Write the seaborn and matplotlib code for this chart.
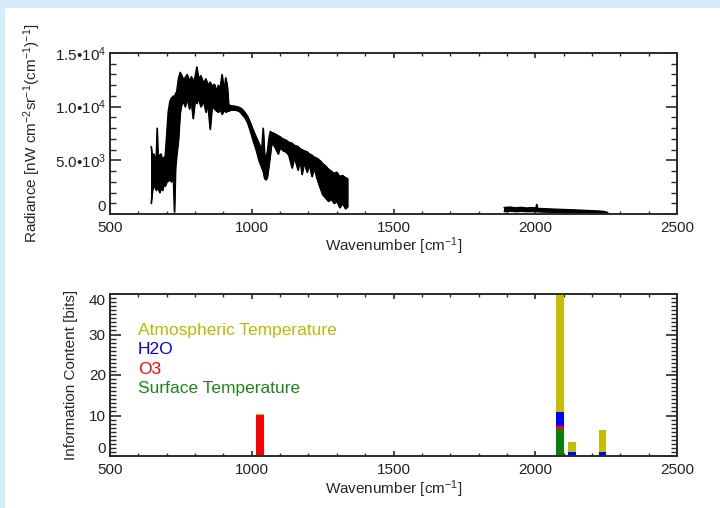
import numpy as np
import pandas as pd
import matplotlib
matplotlib.use("Agg")
import matplotlib.pyplot as plt
from matplotlib.patches import Rectangle
from matplotlib.ticker import FixedLocator, FixedFormatter, MultipleLocator
import seaborn as sns

# ---------------- data ----------------
# Longwave band (cm^-1) with upper / lower envelope of the radiance trace
lw_wn = [645, 650, 655, 660, 663, 666, 669, 675, 680, 685, 690, 694, 700, 705, 711,
         716, 720, 723, 727, 731, 735, 741, 747, 753, 758, 765, 772, 780, 787, 793,
         800, 806, 812, 820, 830, 838, 845, 853, 860, 868, 875, 882, 888, 895, 902,
         908, 914, 918, 925, 940, 955, 965, 975, 985, 995, 1005, 1015, 1025, 1035,
         1040, 1045, 1050, 1055, 1060, 1065, 1070, 1080, 1093, 1100, 1110, 1120,
         1130, 1142, 1150, 1163, 1170, 1177, 1185, 1195, 1203, 1212, 1220, 1230,
         1240, 1250, 1260, 1270, 1280, 1290, 1300, 1310, 1320, 1330, 1338]
lw_hi = [6300, 5200, 5600, 5000, 5300, 8000, 5200, 5500, 5600, 4800, 5300, 5200, 7500, 9500, 10500,
         10800, 10900, 11000, 10900, 11200, 11400, 12600, 13200, 12900, 12600, 12700, 13000, 12400, 12800, 12300,
         12800, 13700, 12600, 12900, 12200, 12600, 12000, 12300, 11900, 12100, 11500, 12000, 11700, 13000, 11500,
         12700, 11800, 10200, 10100, 10050, 9950, 9800, 9500, 9100, 8500, 7800, 7200, 6600, 6000,
         8000, 5500, 5400, 5800, 7000, 7700, 7600, 7500, 7300, 7200, 7000, 6900,
         6700, 6600, 6400, 6300, 6100, 6000, 5900, 5800, 5600, 5500, 5300, 5200,
         5000, 4700, 4500, 4200, 4000, 3800, 3900, 3500, 3600, 3400, 3300]
lw_lo = [1000, 2300, 2600, 2400, 2200, 2500, 2500, 2000, 2400, 2200, 2800, 2600, 3000, 3100, 3200,
         3000, 3300, 3500, 200, 4400, 5500, 6900, 9400, 10300, 10500, 10000, 10800, 9800, 10400, 8900,
         10600, 10300, 10800, 10000, 10500, 9500, 10200, 7900, 10000, 9800, 9600, 9500, 9800, 9300, 9700,
         9500, 9600, 9600, 9700, 9700, 9600, 9300, 9000, 8500, 7700, 6800, 6000, 5000, 4300,
         4000, 3300, 3200, 3500, 4500, 5500, 6600, 6300, 5600, 6200, 5900, 5800,
         5500, 4300, 5300, 4100, 5100, 3700, 4800, 3900, 4600, 3500, 4300, 3300,
         2500, 1800, 1500, 1200, 1400, 1000, 1200, 600, 1000, 500, 700]

# Shortwave band
sw_wn = [1890, 1910, 1930, 1950, 1970, 1990, 2002, 2005, 2008, 2030, 2060, 2090,
         2120, 2150, 2180, 2210, 2240, 2255]
sw_hi = [600, 650, 580, 620, 560, 600, 560, 900, 520, 500, 460, 430,
         400, 370, 330, 300, 250, 150]
sw_lo = [250, 300, 250, 280, 250, 260, 250, 250, 240, 220, 200, 190,
         170, 150, 120, 100, 60, 30]

# Information content bars
bar_wn = [1030, 2087, 2130, 2237]
ic_surface = [0.0, 6.6, 0.0, 0.0]
ic_o3 = [10.1, 0.8, 0.0, 0.0]
ic_h2o = [0.0, 3.4, 1.1, 0.9]
ic_atm = [0.2, 29.4, 2.3, 5.6]

legend_names = ["Atmospheric Temperature", "H2O", "O3", "Surface Temperature"]

x_ticks = [500, 1000, 1500, 2000, 2500]
rad_ticks = [0, 5000, 10000, 15000]
rad_tick_labels = ["0", "5.0\u2022$10^{3}$", "1.0\u2022$10^{4}$", "1.5\u2022$10^{4}$"]
ic_ticks = [0, 10, 20, 30, 40]

# ---------------- style ----------------
sns.set_style("ticks")
plt.rcParams["font.family"] = ["Liberation Sans", "DejaVu Sans"]
plt.rcParams["mathtext.fontset"] = "custom"
plt.rcParams["mathtext.rm"] = "Liberation Sans"
plt.rcParams["mathtext.it"] = "Liberation Sans"
plt.rcParams["mathtext.bf"] = "Liberation Sans"
plt.rcParams["axes.unicode_minus"] = False

c_atm = "#c4bf00"
c_h2o = "#0000ff"
c_o3 = "#ff0000"
c_sfc = "#0a7f0a"
c_atm_txt = "#bdb800"
c_sfc_txt = "#1a861a"
spine_col = "#2a2a2a"

fig = plt.figure(figsize=(7.2, 5.08), dpi=100)
fig.patch.set_facecolor("#d6ecfb")
fig.add_artist(Rectangle((5 / 720, 0), 1, 500 / 508, transform=fig.transFigure,
                         facecolor="white", edgecolor="none", zorder=0))

ax1 = fig.add_axes([110 / 720, 1 - 214 / 508, 567 / 720, 161 / 508])
ax2 = fig.add_axes([110 / 720, 1 - 456 / 508, 567 / 720, 162 / 508])

# ---------------- top: radiance spectrum ----------------
rows = []
for name, xs, ys in [("lw_hi", lw_wn, lw_hi), ("lw_lo", lw_wn, lw_lo),
                     ("sw_hi", sw_wn, sw_hi), ("sw_lo", sw_wn, sw_lo)]:
    for xv, yv in zip(xs, ys):
        rows.append((name, xv, yv))
spec = pd.DataFrame(rows, columns=["trace", "wn", "rad"])
sns.lineplot(data=spec, x="wn", y="rad", units="trace", estimator=None, sort=False,
             color="black", lw=1.0, ax=ax1, legend=False)
ax1.fill_between(lw_wn, lw_lo, lw_hi, color="black", lw=0.8, edgecolor="black")
ax1.fill_between(sw_wn, sw_lo, sw_hi, color="black", lw=0.8, edgecolor="black")

ax1.set_xlim(500, 2500)
ax1.set_ylim(0, 15000)
ax1.yaxis.set_major_locator(FixedLocator(rad_ticks))
ax1.yaxis.set_major_formatter(FixedFormatter(rad_tick_labels))
ax1.yaxis.set_minor_locator(MultipleLocator(1000))
ax1.set_ylabel("Radiance [nW cm$^{-2}$sr$^{-1}$(cm$^{-1}$)$^{-1}$]", fontsize=11)
ax1.yaxis.set_label_coords(-0.118, 0.5)

# ---------------- bottom: information content ----------------
c1 = np.array(ic_surface)
c2 = c1 + np.array(ic_o3)
c3 = c2 + np.array(ic_h2o)
c4 = c3 + np.array(ic_atm)
min_gap = np.min(np.diff(sorted(bar_wn)))
bw = 27.0 / min_gap
for vals, col in [(c4, c_atm), (c3, c_h2o), (c2, c_o3), (c1, c_sfc)]:
    sns.barplot(x=bar_wn, y=vals, native_scale=True, width=bw, color=col,
                saturation=1, errorbar=None, ax=ax2, linewidth=0)

ax2.set_xlim(500, 2500)
ax2.set_ylim(0, 40)
ax2.yaxis.set_major_locator(FixedLocator(ic_ticks))
ax2.yaxis.set_minor_locator(MultipleLocator(1))
ax2.set_ylabel("Information Content [bits]", fontsize=11)
ax2.yaxis.set_label_coords(-0.057, 0.5)

for txt, col, ypx in zip(legend_names, [c_atm_txt, c_h2o, c_o3, c_sfc_txt],
                         [330, 349, 369, 389]):
    ax2.text(138 / 720, 1 - ypx / 508, txt, color=col, fontsize=12.5,
             transform=fig.transFigure, ha="left", va="center")

# ---------------- common axis styling ----------------
for ax, xl_y in [(ax1, -0.135), (ax2, -0.14)]:
    ax.set_facecolor("none")
    ax.set_xticks(x_ticks)
    ax.set_xticklabels([str(v) for v in x_ticks])
    ax.xaxis.set_minor_locator(MultipleLocator(100))
    ax.set_xlabel("Wavenumber [cm$^{-1}$]", fontsize=11)
    ax.xaxis.set_label_coords(0.5, xl_y)
    for s in ax.spines.values():
        s.set_visible(True)
        s.set_color(spine_col)
        s.set_linewidth(1.4)
    ax.tick_params(axis="both", which="both", direction="in", top=True, right=True,
                   colors=spine_col, labelcolor="#222222", labelsize=11)
    ax.tick_params(axis="x", which="major", length=3.5, width=1.2, pad=5)
    ax.tick_params(axis="x", which="minor", length=2.5, width=1.0)
    ax.tick_params(axis="y", which="major", length=8, width=1.2, pad=3)
    ax.tick_params(axis="y", which="minor", length=4, width=1.0)
    ax.grid(False)

# the "0" labels sit above their tick, the top "40" below it (as in the original)
fig.canvas.draw()
ax1.yaxis.get_major_ticks()[0].label1.set_va("bottom")
ax2.yaxis.get_major_ticks()[0].label1.set_va("bottom")
ax2.yaxis.get_major_ticks()[-1].label1.set_va("top")

fig.savefig("out.png", dpi=100, facecolor=fig.get_facecolor())
